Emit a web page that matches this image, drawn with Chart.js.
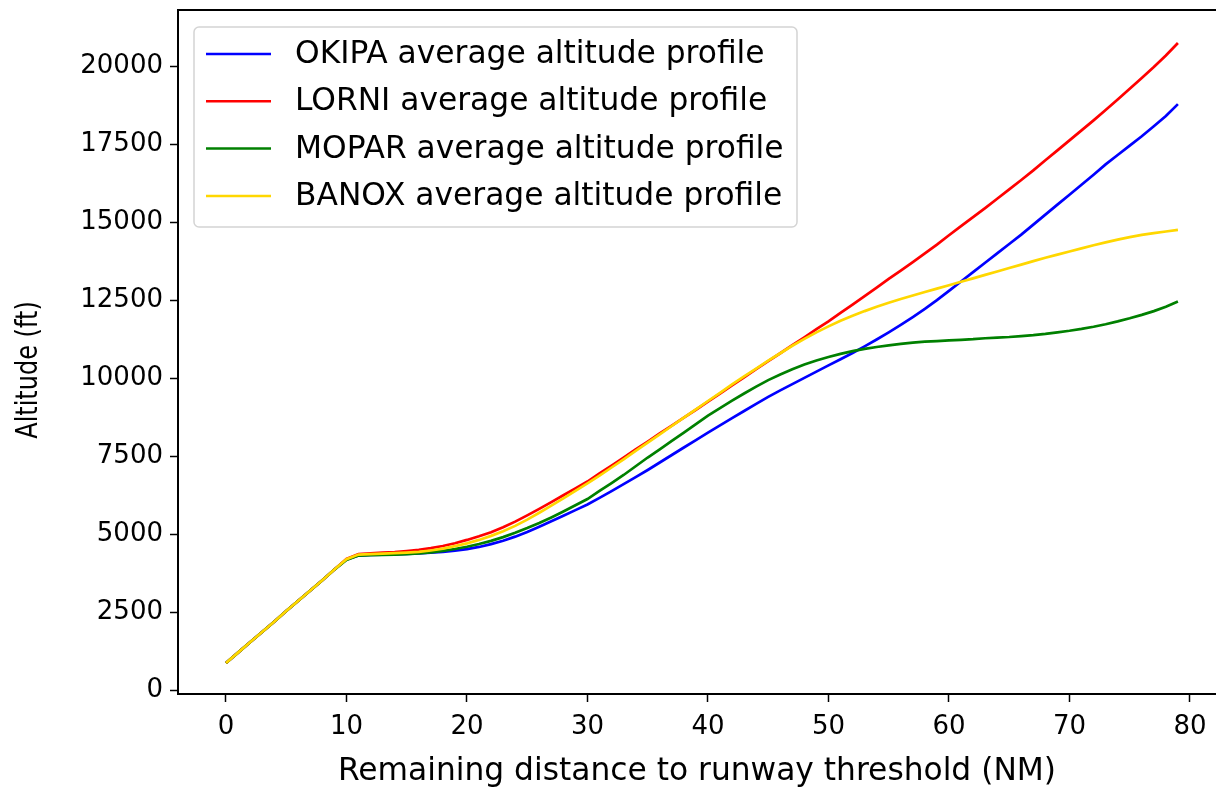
<!DOCTYPE html>
<html>
<head>
<meta charset="utf-8">
<script src="https://cdn.jsdelivr.net/npm/chart.js@4"></script>
<style>
  html, body { margin: 0; padding: 0; background: #fff; overflow: hidden; }
  canvas { display: block; }
</style>
</head>
<body>
<canvas id="altChart" width="1216" height="791"></canvas>
<script>
// remaining distance to threshold, NM
const distanceNm = [
  0,1,2,3,4,5,6,7,8,9,10,11,12,13,14,15,16,17,18,19,
  20,21,22,23,24,25,26,27,28,29,30,31,32,33,34,35,36,37,38,39,
  40,41,42,43,44,45,46,47,48,49,50,51,52,53,54,55,56,57,58,59,
  60,61,62,63,64,65,66,67,68,69,70,71,72,73,74,75,76,77,78,79
];

// average altitude (ft) per arrival fix
const okipaAlt = [
  880,1210,1540,1870,2200,2540,2870,3200,3530,3870,4190,
  4320,4340,4350,4360,4375,4390,4410,4435,4475,4525,
  4595,4685,4795,4925,5075,5240,5415,5595,5775,5955,
  6165,6385,6605,6830,7060,7300,7540,7780,8020,8260,
  8490,8720,8950,9180,9400,9610,9810,10010,10210,10410,
  10610,10810,11020,11240,11470,11710,11960,12220,12500,12800,
  13100,13400,13700,14000,14300,14600,14920,15240,15560,15880,
  16200,16520,16850,17150,17450,17750,18070,18400,18780
];
const lorniAlt = [
  880,1210,1540,1870,2200,2540,2870,3200,3530,3870,4210,
  4370,4390,4410,4430,4465,4505,4555,4625,4715,4820,
  4935,5065,5225,5405,5605,5815,6030,6250,6470,6690,
  6950,7200,7460,7720,7970,8230,8480,8740,8990,9250,
  9510,9770,10030,10290,10550,10800,11060,11310,11570,11820,
  12090,12360,12630,12900,13180,13450,13720,14000,14280,14580,
  14870,15160,15450,15750,16050,16350,16660,16980,17300,17620,
  17940,18260,18590,18930,19270,19620,19970,20340,20740
];
const moparAlt = [
  880,1210,1540,1870,2200,2540,2870,3200,3530,3870,4180,
  4320,4330,4340,4350,4365,4385,4420,4470,4530,4600,
  4690,4790,4910,5050,5200,5360,5540,5730,5930,6130,
  6390,6640,6900,7180,7460,7720,7990,8260,8530,8800,
  9040,9280,9510,9730,9940,10120,10290,10440,10570,10680,
  10780,10870,10940,11000,11050,11100,11140,11170,11190,11210,
  11230,11250,11280,11300,11320,11350,11380,11420,11470,11520,
  11580,11650,11730,11820,11920,12030,12150,12290,12460
];
const banoxAlt = [
  880,1210,1540,1870,2200,2540,2870,3200,3530,3870,4200,
  4350,4365,4380,4395,4415,4440,4480,4540,4620,4710,
  4820,4950,5100,5270,5470,5690,5920,6150,6390,6630,
  6880,7140,7400,7670,7940,8200,8470,8740,9000,9270,
  9530,9800,10060,10310,10560,10800,11040,11260,11470,11660,
  11840,12000,12150,12290,12420,12540,12650,12760,12870,12980,
  13090,13200,13310,13420,13530,13640,13750,13860,13960,14060,
  14160,14260,14350,14440,14520,14590,14650,14700,14750
];

const seriesLabels = [
  "OKIPA average altitude profile",
  "LORNI average altitude profile",
  "MOPAR average altitude profile",
  "BANOX average altitude profile"
];
const seriesColors = ["#0000ff", "#ff0000", "#008000", "#ffd700"];
const seriesValues = [okipaAlt, lorniAlt, moparAlt, banoxAlt];

const xTickValues = [0, 10, 20, 30, 40, 50, 60, 70, 80];
const yTickValues = [0, 2500, 5000, 7500, 10000, 12500, 15000, 17500, 20000];
const yTitle = "Altitude (ft)";

const FONT = "'DejaVu Sans', sans-serif";

// axes box; the right spine falls just outside the picture
const framePlugin = {
  id: "frame",
  afterDraw(chart) {
    const { ctx, chartArea: a } = chart;
    ctx.save();
    ctx.strokeStyle = "#000";
    ctx.lineWidth = 2;
    ctx.beginPath();
    ctx.moveTo(a.right + 2, a.top);
    ctx.lineTo(a.left, a.top);
    ctx.lineTo(a.left, a.bottom);
    ctx.lineTo(a.right + 2, a.bottom);
    ctx.stroke();
    ctx.restore();
  }
};

// narrow, rotated y-axis title like the source figure
const yTitlePlugin = {
  id: "yTitle",
  afterDraw(chart) {
    const { ctx } = chart;
    ctx.save();
    ctx.translate(29, 370);
    ctx.rotate(-Math.PI / 2);
    ctx.scale(0.8, 1);
    ctx.font = "30px " + FONT;
    ctx.fillStyle = "#000";
    ctx.textAlign = "center";
    ctx.textBaseline = "middle";
    ctx.fillText(yTitle, 0, 0);
    ctx.restore();
  }
};

// legend box in the upper-left corner of the plot
const insideLegend = {
  id: "insideLegend",
  afterDraw(chart) {
    const { ctx, chartArea: a } = chart;
    const items = chart.data.datasets;
    const x0 = a.left + 16, y0 = a.top + 17;
    const w = 603, h = 200, rowH = 47.3;
    ctx.save();
    ctx.beginPath();
    ctx.roundRect(x0, y0, w, h, 5);
    ctx.fillStyle = "rgba(255,255,255,0.8)";
    ctx.fill();
    ctx.strokeStyle = "#d4d4d4";
    ctx.lineWidth = 1.5;
    ctx.stroke();
    ctx.font = "31.3px " + FONT;
    ctx.textBaseline = "middle";
    items.forEach((ds, i) => {
      const cy = y0 + 27 + i * rowH;
      ctx.strokeStyle = ds.borderColor;
      ctx.lineWidth = 2.5;
      ctx.beginPath();
      ctx.moveTo(x0 + 12, cy);
      ctx.lineTo(x0 + 77, cy);
      ctx.stroke();
      ctx.fillStyle = "#000";
      ctx.fillText(ds.label, x0 + 101, cy + 1);
    });
    ctx.restore();
  }
};

const noPad = s => { s.paddingTop = 0; s.paddingBottom = 0; s.paddingLeft = 0; s.paddingRight = 0; };

new Chart(document.getElementById("altChart"), {
  type: "line",
  data: {
    datasets: seriesLabels.map((label, i) => ({
      label,
      data: distanceNm.map((d, k) => ({ x: d, y: seriesValues[i][k] })),
      borderColor: seriesColors[i],
      backgroundColor: seriesColors[i],
      borderWidth: 2.7,
      pointRadius: 0,
      tension: 0,
      fill: false,
      order: seriesLabels.length - i
    }))
  },
  options: {
    responsive: false,
    animation: false,
    devicePixelRatio: 1,
    layout: { padding: { left: 0, top: 10, right: 0, bottom: 0 } },
    plugins: {
      legend: { display: false },
      tooltip: { enabled: false }
    },
    scales: {
      x: {
        type: "linear",
        min: -3.98,
        max: 82.16,
        afterBuildTicks: s => { s.ticks = xTickValues.map(v => ({ value: v })); },
        afterFit: s => { s.height = 97; noPad(s); },
        grid: { drawOnChartArea: false, drawTicks: true, tickLength: 8, tickWidth: 1.5, color: "#000" },
        border: { display: false },
        ticks: { color: "#000", font: { family: FONT, size: 26 }, padding: 10, maxRotation: 0,
                 callback: v => String(v) },
        title: { display: true, text: "Remaining distance to runway threshold (NM)", color: "#000",
                 font: { family: FONT, size: 31.3 }, padding: { top: 4, bottom: 0 } }
      },
      y: {
        min: -116,
        max: 21796,
        afterBuildTicks: s => { s.ticks = yTickValues.map(v => ({ value: v })); },
        afterFit: s => { s.width = 178; noPad(s); },
        grid: { drawOnChartArea: false, drawTicks: true, tickLength: 8, tickWidth: 1.5, color: "#000" },
        border: { display: false },
        ticks: { color: "#000", font: { family: FONT, size: 26 }, padding: 7,
                 callback: v => String(v) },
        title: { display: false }
      }
    }
  },
  plugins: [framePlugin, yTitlePlugin, insideLegend]
});
</script>
</body>
</html>
